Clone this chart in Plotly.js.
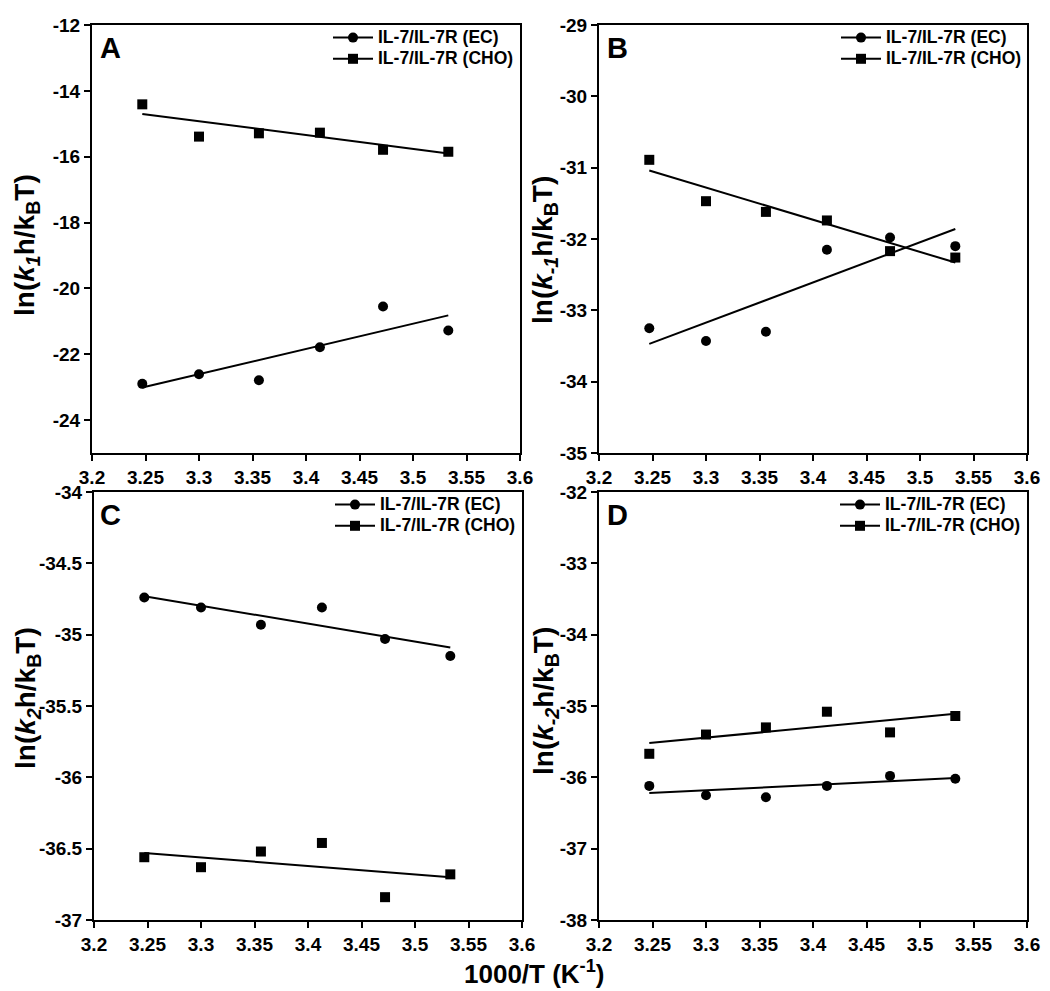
<!DOCTYPE html>
<html>
<head>
<meta charset="utf-8">
<script src="https://cdn.plot.ly/plotly-3.0.1.min.js"></script>
<style>html,body{margin:0;padding:0;background:#fff;}#chart{width:1050px;height:991px;}</style>
</head>
<body>
<div id="chart"></div>
<script>
// 1000/T values (K^-1)
const invT = [3.247, 3.300, 3.356, 3.413, 3.472, 3.533];
const fitX = [3.247, 3.533];

const seriesNames = ["IL-7/IL-7R (EC)", "IL-7/IL-7R (CHO)"];
const panelLabels = ["A", "B", "C", "D"];

// Panel A: ln(k1 h / kB T)
const ecA = [-22.90, -22.61, -22.79, -21.79, -20.55, -21.28];
const choA = [-14.41, -15.39, -15.29, -15.27, -15.79, -15.85];
const fitEcA = [-23.01, -20.82];
const fitChoA = [-14.70, -15.90];

// Panel B: ln(k-1 h / kB T)
const ecB = [-33.25, -33.43, -33.30, -32.15, -31.98, -32.10];
const choB = [-30.89, -31.47, -31.62, -31.74, -32.17, -32.26];
const fitEcB = [-33.47, -31.86];
const fitChoB = [-31.04, -32.33];

// Panel C: ln(k2 h / kB T)
const ecC = [-34.74, -34.81, -34.93, -34.81, -35.03, -35.15];
const choC = [-36.56, -36.63, -36.52, -36.46, -36.84, -36.68];
const fitEcC = [-34.73, -35.09];
const fitChoC = [-36.53, -36.70];

// Panel D: ln(k-2 h / kB T)
const ecD = [-36.12, -36.25, -36.28, -36.12, -35.98, -36.02];
const choD = [-35.67, -35.40, -35.30, -35.08, -35.37, -35.14];
const fitEcD = [-36.22, -36.01];
const fitChoD = [-35.52, -35.11];

// Tick values / labels
const xTickVals = [3.2, 3.25, 3.3, 3.35, 3.4, 3.45, 3.5, 3.55, 3.6];
const xTickText = ["3.2", "3.25", "3.3", "3.35", "3.4", "3.45", "3.5", "3.55", "3.6"];
const yTickValsA = [-24, -22, -20, -18, -16, -14, -12];
const yTickTextA = ["-24", "-22", "-20", "-18", "-16", "-14", "-12"];
const yTickValsB = [-35, -34, -33, -32, -31, -30, -29];
const yTickTextB = ["-35", "-34", "-33", "-32", "-31", "-30", "-29"];
const yTickValsC = [-37, -36.5, -36, -35.5, -35, -34.5, -34];
const yTickTextC = ["-37", "-36.5", "-36", "-35.5", "-35", "-34.5", "-34"];
const yTickValsD = [-38, -37, -36, -35, -34, -33, -32];
const yTickTextD = ["-38", "-37", "-36", "-35", "-34", "-33", "-32"];

const yTitles = [
  "ln(<i>k<sub>1</sub></i>h/k<sub>B</sub>T)",
  "ln(<i>k<sub>-1</sub></i>h/k<sub>B</sub>T)",
  "ln(<i>k<sub>2</sub></i>h/k<sub>B</sub>T)",
  "ln(<i>k<sub>-2</sub></i>h/k<sub>B</sub>T)"
];
const xTitle = "1000/T (K<sup>-1</sup>)";

const FONT = "Arial, 'Liberation Sans', Helvetica, sans-serif";
const W = 1050, H = 991;
const px = v => v / W;
const py = v => 1 - v / H;
const bold = arr => arr.map(s => "<b>" + s + "</b>");
const legName = s => '<span style="font-size:17.5px"><b>' + s + '</b></span>';

const panels = [
  {ec: ecA, cho: choA, fEc: fitEcA, fCho: fitChoA, xa: "x", ya: "y", leg: "legend"},
  {ec: ecB, cho: choB, fEc: fitEcB, fCho: fitChoB, xa: "x2", ya: "y2", leg: "legend2"},
  {ec: ecC, cho: choC, fEc: fitEcC, fCho: fitChoC, xa: "x3", ya: "y3", leg: "legend3"},
  {ec: ecD, cho: choD, fEc: fitEcD, fCho: fitChoD, xa: "x4", ya: "y4", leg: "legend4"}
];

const traces = [];
panels.forEach(p => {
  // data points
  traces.push({x: invT, y: p.ec, xaxis: p.xa, yaxis: p.ya, mode: "markers", type: "scatter",
    marker: {symbol: "circle", size: 10, color: "#000"}, showlegend: false, name: seriesNames[0]});
  traces.push({x: invT, y: p.cho, xaxis: p.xa, yaxis: p.ya, mode: "markers", type: "scatter",
    marker: {symbol: "square", size: 10, color: "#000"}, showlegend: false, name: seriesNames[1]});
  // fit lines
  traces.push({x: fitX, y: p.fEc, xaxis: p.xa, yaxis: p.ya, mode: "lines", type: "scatter",
    line: {color: "#000", width: 2}, showlegend: false, hoverinfo: "skip"});
  traces.push({x: fitX, y: p.fCho, xaxis: p.xa, yaxis: p.ya, mode: "lines", type: "scatter",
    line: {color: "#000", width: 2}, showlegend: false, hoverinfo: "skip"});
  // legend entries
  traces.push({x: [null], y: [null], xaxis: p.xa, yaxis: p.ya, mode: "lines+markers", type: "scatter",
    name: legName(seriesNames[0]), legend: p.leg, line: {color: "#000", width: 2},
    marker: {symbol: "circle", size: 10, color: "#000"}});
  traces.push({x: [null], y: [null], xaxis: p.xa, yaxis: p.ya, mode: "lines+markers", type: "scatter",
    name: legName(seriesNames[1]), legend: p.leg, line: {color: "#000", width: 2},
    marker: {symbol: "square", size: 10, color: "#000"}});
});

function xAxis(domain, anchor) {
  return {domain: domain, anchor: anchor, range: [3.2, 3.6], tickvals: xTickVals, ticktext: bold(xTickText),
    showgrid: false, zeroline: false, showline: true, linecolor: "#000", linewidth: 2, mirror: true,
    ticks: "outside", ticklen: 6, tickwidth: 2, tickcolor: "#000",
    tickfont: {family: FONT, size: 19, color: "#000", weight: "bold"}, automargin: false};
}
function yAxis(domain, anchor, range, vals, text) {
  return {domain: domain, anchor: anchor, range: range, tickvals: vals, ticktext: bold(text),
    showgrid: false, zeroline: false, showline: true, linecolor: "#000", linewidth: 2, mirror: true,
    ticks: "outside", ticklen: 6, tickwidth: 2, tickcolor: "#000",
    tickfont: {family: FONT, size: 19, color: "#000", weight: "bold"}, automargin: false};
}

const dxL = [px(92), px(520)];
const dxLc = [px(94), px(522)];
const dxR = [px(599), px(1027)];
const dyT = [py(453), py(25)];
const dyB = [py(920), py(492)];

function legendAt(xRight, yTop) {
  return {x: px(xRight), xanchor: "right", y: py(yTop), yanchor: "top", bgcolor: "rgba(0,0,0,0)",
    borderwidth: 0, itemwidth: 40, tracegroupgap: 0,
    font: {family: FONT, size: 14, color: "#000", weight: "bold"}};
}

const annotations = [];
const labelPos = [[110, 48], [617, 48], [110, 515], [617, 515]];
panelLabels.forEach((t, i) => {
  annotations.push({text: "<b>" + t + "</b>", xref: "paper", yref: "paper", x: px(labelPos[i][0]), y: py(labelPos[i][1]),
    xanchor: "center", yanchor: "middle", showarrow: false,
    font: {family: FONT, size: 29, color: "#000", weight: "bold"}});
});
const yTitlePos = [[27, 245], [545, 250], [27, 698], [545, 701]];
yTitles.forEach((t, i) => {
  annotations.push({text: "<b>" + t + "</b>", xref: "paper", yref: "paper", x: px(yTitlePos[i][0]), y: py(yTitlePos[i][1]),
    xanchor: "center", yanchor: "middle", textangle: -90, showarrow: false,
    font: {family: FONT, size: 28, color: "#000", weight: "bold"}});
});
annotations.push({text: "<b>" + xTitle + "</b>", xref: "paper", yref: "paper", x: px(534), y: py(972),
  xanchor: "center", yanchor: "middle", showarrow: false,
  font: {family: FONT, size: 26, color: "#000", weight: "bold"}});

const layout = {
  width: W, height: H,
  margin: {l: 0, r: 0, t: 0, b: 0},
  paper_bgcolor: "#fff", plot_bgcolor: "#fff",
  font: {family: FONT, color: "#000"},
  xaxis: xAxis(dxL, "y"),
  yaxis: yAxis(dyT, "x", [-25, -12], yTickValsA, yTickTextA),
  xaxis2: xAxis(dxR, "y2"),
  yaxis2: yAxis(dyT, "x2", [-35, -29], yTickValsB, yTickTextB),
  xaxis3: xAxis(dxLc, "y3"),
  yaxis3: yAxis(dyB, "x3", [-37, -34], yTickValsC, yTickTextC),
  xaxis4: xAxis(dxR, "y4"),
  yaxis4: yAxis(dyB, "x4", [-38, -32], yTickValsD, yTickTextD),
  legend: legendAt(519, 22),
  legend2: legendAt(1027, 22),
  legend3: legendAt(521, 489),
  legend4: legendAt(1026, 489),
  annotations: annotations,
  showlegend: true
};

Plotly.newPlot("chart", traces, layout, {displayModeBar: false, staticPlot: true});
</script>
</body>
</html>
